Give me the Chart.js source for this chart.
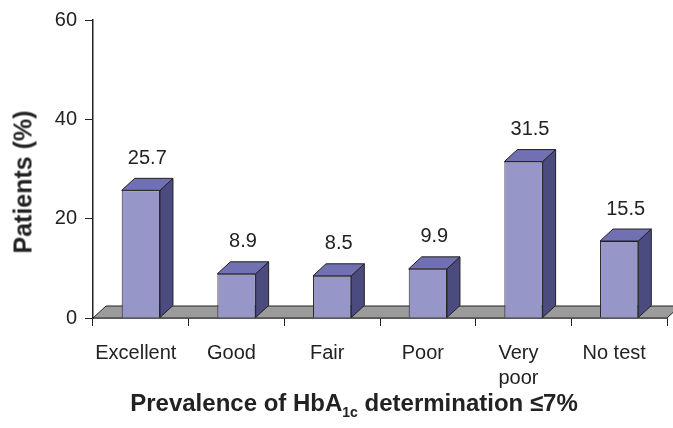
<!DOCTYPE html>
<html>
<head>
<meta charset="utf-8">
<script src="https://cdn.jsdelivr.net/npm/chart.js@4.4.1/dist/chart.umd.min.js"></script>
<style>
  html, body { margin: 0; padding: 0; background: #fff; }
  #wrap { position: relative; width: 673px; height: 428px; }
  #xtitle {
    position: absolute; left: 354px; top: 391px; transform: translateX(-50%);
    font: bold 24px "Liberation Sans", Arial, sans-serif; color: #222;
    white-space: nowrap; line-height: 24px;
  }
  #xtitle sub { font-size: 14px; vertical-align: -6px; line-height: 0; }
  #ytitle {
    position: absolute; left: 23px; top: 182px;
    transform: translate(-50%, -50%) rotate(-90deg);
    font: bold 25px "Liberation Sans", Arial, sans-serif; color: #222;
    white-space: nowrap; line-height: 25px;
  }
</style>
</head>
<body>
<div id="wrap">
  <canvas id="c" width="673" height="428"></canvas>
  <div id="ytitle">Patients (%)</div>
  <div id="xtitle">Prevalence of HbA<sub>1c</sub> determination ≤7%</div>
</div>
<script>
const categories = [['Excellent'], ['Good'], ['Fair'], ['Poor'], ['Very', 'poor'], ['No test']];
const patientsPct = [25.7, 8.9, 8.5, 9.9, 31.5, 15.5];
const yTicks = [0, 20, 40, 60];

const FRONT = '#9696c9';
const TOP = '#7070b3';
const SIDE = '#4b4b80';
const FLOOR = '#9b9b9b';
const LINE = '#222222';
const DX = 13, DY = 12;

function poly(ctx, pts, fill) {
  ctx.beginPath();
  ctx.moveTo(pts[0][0], pts[0][1]);
  for (let i = 1; i < pts.length; i++) ctx.lineTo(pts[i][0], pts[i][1]);
  ctx.closePath();
  ctx.fillStyle = fill;
  ctx.fill();
  ctx.strokeStyle = LINE;
  ctx.lineWidth = 1;
  ctx.stroke();
}

const bar3d = {
  id: 'bar3d',
  beforeDatasetsDraw(chart) {
    const { ctx, chartArea: a } = chart;
    ctx.save();
    poly(ctx, [[a.left, a.bottom], [a.right, a.bottom], [a.right + DX, a.bottom - DY], [a.left + DX, a.bottom - DY]], FLOOR);
    ctx.restore();
  },
  afterDatasetsDraw(chart) {
    const { ctx } = chart;
    const meta = chart.getDatasetMeta(0);
    ctx.save();
    meta.data.forEach((bar, i) => {
      const p = bar.getProps(['x', 'y', 'base', 'width'], true);
      const l = p.x - p.width / 2, r = p.x + p.width / 2;
      poly(ctx, [[r, p.y], [r + DX, p.y - DY], [r + DX, p.base - DY], [r, p.base]], SIDE);
      poly(ctx, [[l, p.y], [r, p.y], [r + DX, p.y - DY], [l + DX, p.y - DY]], TOP);
      ctx.fillStyle = LINE;
      ctx.font = '20px "Liberation Sans", Arial, sans-serif';
      ctx.textAlign = 'center';
      ctx.textBaseline = 'middle';
      ctx.fillText(String(patientsPct[i]), p.x + DX / 2, p.y - 32);
    });
    ctx.restore();
  }
};

new Chart(document.getElementById('c'), {
  type: 'bar',
  data: {
    labels: categories,
    datasets: [{
      data: patientsPct,
      backgroundColor: FRONT,
      borderColor: LINE,
      borderWidth: 1,
      barPercentage: 0.4,
      categoryPercentage: 1
    }]
  },
  options: {
    responsive: false,
    animation: false,
    layout: { padding: { top: 14, right: 6, left: 0, bottom: 0 } },
    plugins: { legend: { display: false }, tooltip: { enabled: false } },
    scales: {
      x: {
        afterFit(s) { s.height = 110; },
        grid: { offset: true, drawOnChartArea: false, drawTicks: true, tickLength: 8, color: LINE, lineWidth: 1 },
        border: { display: true, color: LINE, width: 1.5 },
        ticks: {
          color: LINE, padding: 15, labelOffset: -5, maxRotation: 0, autoSkip: false,
          font: { family: '"Liberation Sans", Arial, sans-serif', size: 20, lineHeight: 1.25 }
        }
      },
      y: {
        min: 0, max: 60,
        afterFit(s) { s.width = 93; },
        afterBuildTicks(s) { s.ticks = yTicks.map(v => ({ value: v })); },
        grid: { drawOnChartArea: false, drawTicks: true, tickLength: 8, color: LINE, lineWidth: 1 },
        border: { display: true, color: LINE, width: 1.5 },
        ticks: {
          color: LINE, padding: 8,
          font: { family: '"Liberation Sans", Arial, sans-serif', size: 20 }
        },
        title: { display: false }
      }
    }
  },
  plugins: [bar3d]
});
</script>
</body>
</html>
